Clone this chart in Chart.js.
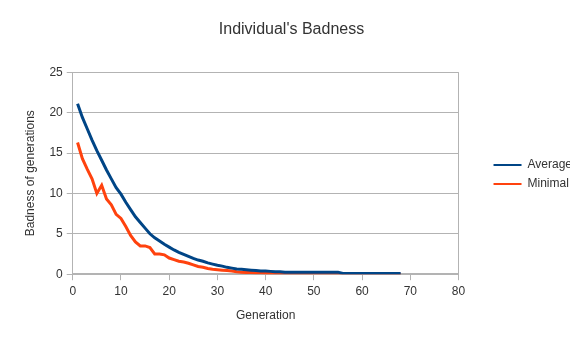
<!DOCTYPE html>
<html>
<head>
<meta charset="utf-8">
<script src="https://cdn.jsdelivr.net/npm/chart.js@4/dist/chart.umd.min.js"></script>
<style>
  html, body { margin: 0; padding: 0; background: #fff; }
  #wrap { width: 570px; height: 337px; }
</style>
</head>
<body>
<div id="wrap"><canvas id="grafico"></canvas></div>
<script>
// Generaciones 1..68
const generaciones = [
  1, 2, 3, 4, 5, 6, 7, 8, 9, 10, 11, 12, 13, 14, 15, 16, 17,
  18, 19, 20, 21, 22, 23, 24, 25, 26, 27, 28, 29, 30, 31, 32, 33, 34,
  35, 36, 37, 38, 39, 40, 41, 42, 43, 44, 45, 46, 47, 48, 49, 50, 51,
  52, 53, 54, 55, 56, 57, 58, 59, 60, 61, 62, 63, 64, 65, 66, 67, 68
];

// "Badness" promedio por generación
const promedio = [
  21.1, 19.4, 18.0, 16.6, 15.3, 14.1, 12.9, 11.8, 10.7, 9.9, 8.9, 8.0, 7.1, 6.4, 5.7, 5.0, 4.5,
  4.1, 3.7, 3.35, 3.0, 2.7, 2.45, 2.2, 1.95, 1.75, 1.6, 1.4, 1.25, 1.1, 1.0, 0.85, 0.75, 0.65,
  0.6, 0.55, 0.5, 0.45, 0.4, 0.4, 0.35, 0.3, 0.3, 0.25, 0.25, 0.25, 0.25, 0.25, 0.25, 0.25, 0.25,
  0.25, 0.25, 0.25, 0.25, 0.08, 0.08, 0.08, 0.08, 0.08, 0.08, 0.08, 0.08, 0.08, 0.08, 0.08, 0.08, 0.08
];

// "Badness" mínimo por generación
const minimo = [
  16.3, 14.3, 13.0, 11.8, 10.0, 11.0, 9.3, 8.6, 7.4, 6.9, 5.9, 4.8, 4.0, 3.5, 3.5, 3.3, 2.5,
  2.5, 2.4, 2.0, 1.8, 1.6, 1.5, 1.35, 1.15, 0.95, 0.85, 0.7, 0.6, 0.55, 0.5, 0.45, 0.4, 0.3,
  0.25, 0.2, 0.2, 0.15, 0.15, 0.1, 0.1, 0.05, 0.05, 0, 0, 0, 0, 0, 0, 0, 0,
  0, 0, 0, 0, 0, 0, 0, 0, 0, 0, 0, 0, 0, 0, 0, 0, 0
];

const ticksX = [0, 10, 20, 30, 40, 50, 60, 70, 80];
const ticksY = [0, 5, 10, 15, 20, 25];

const gris = "#b3b3b3";
const texto = "#333333";

Chart.defaults.font.family = "'Liberation Sans', Arial, sans-serif";
Chart.defaults.font.size = 12;
Chart.defaults.color = texto;

const puntos = (serie) => generaciones.map((g, i) => ({ x: g, y: serie[i] }));

// reserva espacio para la leyenda y luego la corre a la derecha / abajo
const leyendaAncha = {
  id: "leyendaAncha",
  beforeInit(chart) {
    const fitOriginal = chart.legend.fit;
    chart.legend.fit = function () {
      fitOriginal.call(this);
      this.width += 16;
    };
  },
  afterLayout(chart) {
    const ley = chart.legend;
    ley.left += 28;
    ley.right = chart.width;
    ley.top += 12;
    ley.bottom += 12;
  }
};

new Chart(document.getElementById("grafico"), {
  type: "line",
  data: {
    datasets: [
      {
        label: "Average",
        data: puntos(promedio),
        borderColor: "#004586",
        backgroundColor: "#004586",
        borderWidth: 3,
        pointRadius: 0,
        order: 1
      },
      {
        label: "Minimal",
        data: puntos(minimo),
        borderColor: "#ff420e",
        backgroundColor: "#ff420e",
        borderWidth: 3,
        pointRadius: 0,
        order: 2
      }
    ]
  },
  plugins: [leyendaAncha],
  options: {
    responsive: true,
    maintainAspectRatio: false,
    animation: false,
    layout: {
      padding: { left: 13, right: 0, top: 0, bottom: 12 }
    },
    plugins: {
      title: {
        display: true,
        text: "Individual's Badness",
        font: { size: 16, weight: "normal" },
        color: texto,
        padding: { top: 20, bottom: 33 }
      },
      legend: {
        position: "right",
        labels: {
          boxWidth: 28,
          boxHeight: 2,
          padding: 7,
          color: texto,
          generateLabels: (chart) =>
            Chart.defaults.plugins.legend.labels.generateLabels(chart).map((item) => ({
              ...item,
              lineWidth: 0
            }))
        }
      },
      tooltip: { enabled: false }
    },
    scales: {
      x: {
        type: "linear",
        min: 0,
        max: 80,
        afterBuildTicks: (escala) => {
          escala.ticks = ticksX.map((v) => ({ value: v }));
        },
        title: {
          display: true,
          text: "Generation",
          color: texto,
          padding: { top: 6, bottom: 2 }
        },
        grid: {
          color: (ctx) => (ctx.tick && (ctx.tick.value === 80) ? gris : "transparent"),
          tickColor: gris,
          tickLength: 6
        },
        border: { color: gris, width: 2 },
        ticks: { color: texto, padding: 4 }
      },
      y: {
        min: 0,
        max: 25,
        afterBuildTicks: (escala) => {
          escala.ticks = ticksY.map((v) => ({ value: v }));
        },
        title: {
          display: true,
          text: "Badness of generations",
          color: texto,
          padding: { top: 10, bottom: 8 }
        },
        grid: {
          color: gris,
          tickColor: gris,
          tickLength: 6
        },
        border: { color: gris, width: 1 },
        ticks: { color: texto, padding: 4 }
      }
    }
  }
});
</script>
</body>
</html>
